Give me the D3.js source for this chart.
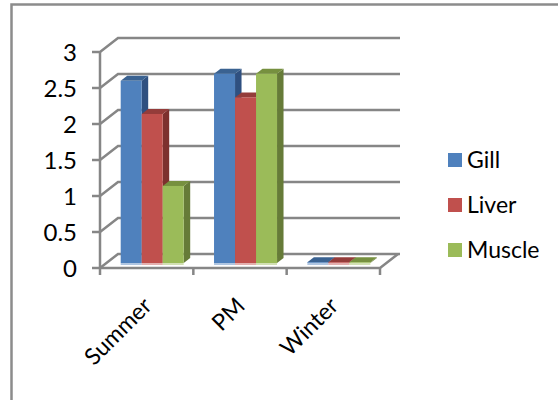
<!DOCTYPE html>
<html>
<head>
<meta charset="utf-8">
<script src="https://cdn.jsdelivr.net/npm/d3@7"></script>
<style>
  html, body { margin: 0; padding: 0; background: #fff; overflow: hidden; }
  svg { display: block; }
  text { font-family: Lato, "Open Sans", "Noto Sans", sans-serif; fill: #000; }
</style>
</head>
<body>
<svg id="chart" width="558" height="400"></svg>
<script>
const categories = ["Summer", "PM", "Winter"];
const seriesNames = ["Gill", "Liver", "Muscle"];
const gill = [2.53, 2.63, 0.01];
const liver = [2.07, 2.3, 0.01];
const muscle = [1.07, 2.63, 0.01];
const yTicks = [0, 0.5, 1, 1.5, 2, 2.5, 3];
const seriesValues = [gill, liver, muscle];

// front, top and side shades for each series
const faceColors = ["#4f81bd", "#c0504d", "#9bbb59"];
const topColors = ["#3a6291", "#943c3a", "#76903f"];
const sideColors = ["#2f5080", "#7d302e", "#667b38"];
const gridColor = "#868686";

const svg = d3.select("#chart");

// wall offset of the fake 3D box
const wallDx = 18, wallDy = -14;
// bar depth
const barDx = 6.5, barDy = -5;

const x = d3.scaleBand().domain(categories).range([100, 380]);
const y = d3.scaleLinear().domain([0, 3]).range([268, 52]);
const xInner = d3.scaleBand().domain(seriesNames).range([20.7, 83.7]);
const barBase = 263;
const barHeight = v => y(0) - y(v);

// chart frame, only top and left edges fall inside the crop
svg.append("path")
  .attr("d", "M11.5,400V4.5H558")
  .attr("fill", "none")
  .attr("stroke", "#8c8c8c")
  .attr("stroke-width", 2.5);

// gridlines on the back wall and the diagonal on the side wall
const grid = svg.append("g").attr("stroke", gridColor).attr("stroke-width", 2.5).attr("fill", "none");
yTicks.forEach(t => {
  grid.append("path")
    .attr("d", `M${x.range()[0] - 8},${y(t)}H${x.range()[0]}L${x.range()[0] + wallDx},${y(t) + wallDy}H${x.range()[1] + wallDx + 2}`);
});

// axes
grid.append("path").attr("d", `M${x.range()[0]},${y(3)}V${y(0) + 7}`);
grid.append("path").attr("d", `M${x.range()[0]},${y(0)}H${x.range()[1]}L${x.range()[1] + wallDx},${y(0) + wallDy}`);
categories.concat([null]).forEach((c, i) => {
  const tx = c ? x(c) : x.range()[1];
  if (i > 0) grid.append("path").attr("d", `M${tx},${y(0)}V${y(0) + 7}`);
});

svg.append("g").selectAll("text")
  .data(yTicks)
  .join("text")
  .attr("x", 77)
  .attr("y", d => y(d))
  .attr("dy", "0.36em")
  .attr("text-anchor", "end")
  .attr("font-size", 24)
  .text(d => d);

// bars
const bars = svg.append("g");
categories.forEach((cat, ci) => {
  seriesNames.forEach((name, si) => {
    const v = seriesValues[si][ci];
    const bx = x(cat) + xInner(name);
    const w = xInner.bandwidth();
    const top = barBase - barHeight(v);
    // side
    bars.append("path")
      .attr("d", `M${bx + w},${top}l${barDx},${barDy}V${barBase + barDy}L${bx + w},${barBase}Z`)
      .attr("fill", sideColors[si]);
    // top
    bars.append("path")
      .attr("d", `M${bx},${top}l${barDx},${barDy}h${w}l${-barDx},${-barDy}Z`)
      .attr("fill", topColors[si]);
    // front
    bars.append("rect")
      .attr("x", bx).attr("y", top)
      .attr("width", w).attr("height", barBase - top)
      .attr("fill", faceColors[si]);
    // pale reflection under the bar
    bars.append("rect")
      .attr("x", bx).attr("y", barBase)
      .attr("width", w).attr("height", 2)
      .attr("fill", faceColors[si])
      .attr("opacity", 0.45);
  });
});

// category labels
svg.append("g").selectAll("text")
  .data(categories)
  .join("text")
  .attr("transform", d => `translate(${x(d) + x.bandwidth() / 2 - 5},${y(0) + 28}) rotate(-45)`)
  .attr("text-anchor", "end")
  .attr("dy", "0.7em")
  .attr("font-size", 23)
  .text(d => d);

// legend
const legendY = d3.scalePoint().domain(seriesNames).range([160, 250]);
const legend = svg.append("g").selectAll("g")
  .data(seriesNames)
  .join("g")
  .attr("transform", d => `translate(448,${legendY(d)})`);
legend.append("rect")
  .attr("x", 0).attr("y", -7)
  .attr("width", 14).attr("height", 14)
  .attr("fill", (d, i) => faceColors[i]);
legend.append("text")
  .attr("x", 19)
  .attr("dy", "0.34em")
  .attr("font-size", 23)
  .text(d => d);
</script>
</body>
</html>
